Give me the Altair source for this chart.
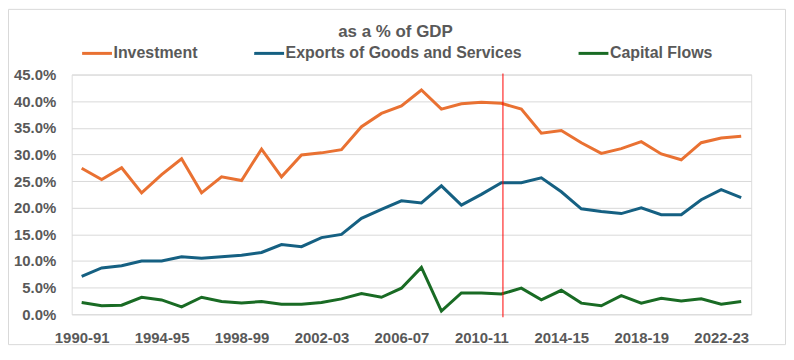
import altair as alt
import pandas as pd

years = [f"{y}-{str(y + 1)[-2:]}" for y in range(1990, 2024)]

investment = [27.4, 25.3, 27.5, 22.8, 26.2, 29.2, 22.8, 25.8, 25.1, 31.0,
              25.8, 29.9, 30.3, 30.9, 35.2, 37.7, 39.1, 42.1, 38.5, 39.5,
              39.8, 39.6, 38.5, 34.0, 34.5, 32.2, 30.2, 31.1, 32.4, 30.1,
              29.0, 32.2, 33.1, 33.4]
exports = [7.1, 8.7, 9.1, 10.0, 10.0, 10.8, 10.5, 10.8, 11.1, 11.6,
           13.1, 12.7, 14.4, 15.0, 18.0, 19.7, 21.3, 20.9, 24.1, 20.5,
           22.5, 24.7, 24.7, 25.6, 23.0, 19.8, 19.3, 18.9, 20.0, 18.7,
           18.7, 21.5, 23.4, 21.9]
capital = [2.2, 1.6, 1.7, 3.2, 2.7, 1.4, 3.2, 2.4, 2.1, 2.4,
           1.9, 1.9, 2.2, 2.9, 3.9, 3.2, 4.9, 8.8, 0.6, 4.0,
           4.0, 3.8, 4.9, 2.7, 4.5, 2.1, 1.6, 3.5, 2.1, 3.0,
           2.5, 2.9, 1.9, 2.4]

series_names = ["Investment", "Exports of Goods and Services", "Capital Flows"]
series_colors = ["#E97132", "#156082", "#196B24"]
marker_year = "2011-12"
y_ticks = [0, 5, 10, 15, 20, 25, 30, 35, 40, 45]
x_tick_years = years[::4]

rows = []
for name, vals in zip(series_names, [investment, exports, capital]):
    for i, (yr, v) in enumerate(zip(years, vals)):
        rows.append({"idx": i, "year": yr, "series": name, "value": v})
df = pd.DataFrame(rows)

W, H = 683, 241
PAD = {"left": 64, "top": 66, "right": 35, "bottom": 31}
FONT = "Liberation Sans"
GRAY = "#595959"

label_array = "[" + ",".join(f"'{y}'" for y in years) + "]"
x_scale = alt.Scale(domain=[-0.5, len(years) - 0.5], nice=False, zero=False)

lines = alt.Chart(df).mark_line(strokeWidth=3).encode(
    x=alt.X("idx:Q", scale=x_scale,
            axis=alt.Axis(values=[years.index(y) for y in x_tick_years],
                          labelExpr=f"{label_array}[datum.value]",
                          grid=False, ticks=False, domain=False, title=None,
                          labelFont=FONT, labelFontSize=15, labelFontWeight="bold",
                          labelColor=GRAY, labelPadding=16)),
    y=alt.Y("value:Q", scale=alt.Scale(domain=[0, 45], nice=False),
            axis=alt.Axis(values=y_ticks, labelExpr="format(datum.value, '.1f') + '%'",
                          grid=True, gridColor="#D9D9D9", gridWidth=1,
                          ticks=False, domain=False, title=None,
                          labelFont=FONT, labelFontSize=15, labelFontWeight="bold",
                          labelColor=GRAY, labelPadding=16)),
    color=alt.Color("series:N", sort=series_names,
                    scale=alt.Scale(domain=series_names, range=series_colors),
                    legend=alt.Legend(title=None, orient="none", legendX=9, legendY=-38,
                                      direction="horizontal", symbolType="stroke",
                                      symbolSize=900, symbolStrokeWidth=3,
                                      labelFont=FONT, labelFontSize=16,
                                      labelFontWeight="bold", labelColor=GRAY,
                                      labelOffset=0, columnPadding=50, padding=0,
                                      labelLimit=400)),
    detail="series:N",
)

marker_df = pd.DataFrame({"idx": [years.index(marker_year)]})
marker = alt.Chart(marker_df).mark_rule(color="#FF0000", strokeWidth=1, xOffset=1.6).encode(
    x=alt.X("idx:Q", scale=x_scale),
    y=alt.value(-1),
    y2=alt.value(H + 3),
)

frame_df = pd.DataFrame({"f": [0]})
frame = alt.Chart(frame_df).mark_rect(filled=False, stroke="#D9D9D9", strokeWidth=1).encode(
    x=alt.value(-PAD["left"] + 0.5),
    x2=alt.value(W + PAD["right"] - 0.5),
    y=alt.value(-PAD["top"] + 0.5),
    y2=alt.value(H + PAD["bottom"] - 0.5),
)

chart = alt.layer(frame, lines, marker).properties(
    width=W, height=H,
    title=alt.TitleParams(text="as a % of GDP", font=FONT, fontSize=17,
                          fontWeight="bold", color=GRAY, anchor="middle",
                          dx=-16, offset=-32),
    autosize=alt.AutoSizeParams(type="none"),
    padding=PAD,
).configure_view(stroke=None).configure(background="white")

chart.save("out.html", embed_options={"renderer": "svg", "actions": False})
